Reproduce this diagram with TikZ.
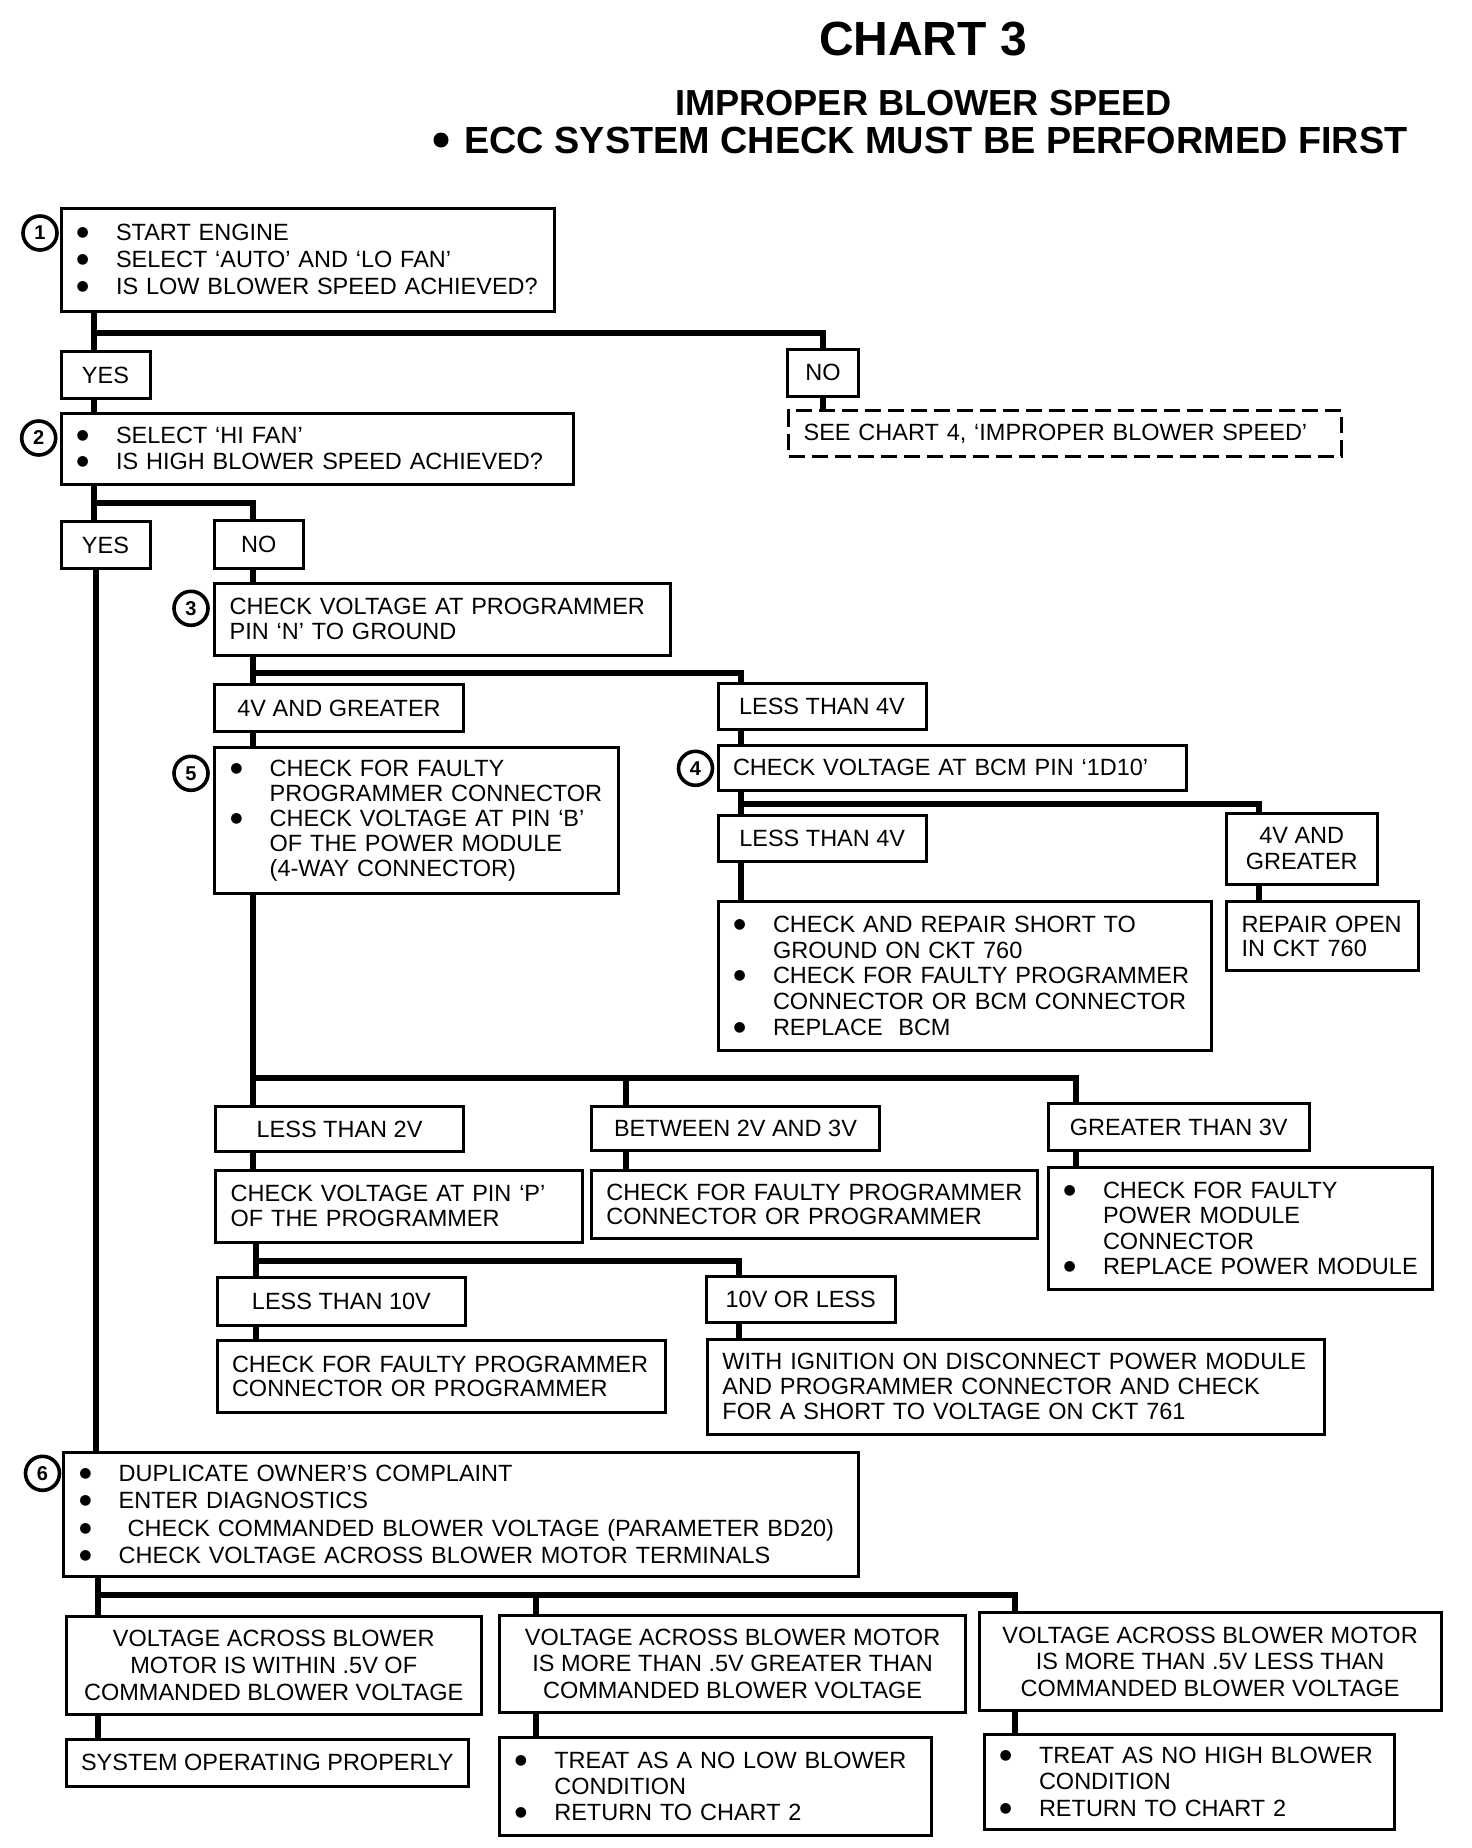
\documentclass[tikz,border=0pt]{standalone}
\usepackage{fontspec}
\setmainfont{Liberation Sans}
\newfontfamily\dejavu{DejaVu Sans}
\newcommand\bl{\makebox[20pt][l]{\hspace{0.3pt}\raisebox{2pt}{\fontsize{7pt}{7pt}\dejavu ●}}}
\newcommand\Bu[1]{\mbox{\bl #1}}
\newcommand\Co[1]{\mbox{\hspace*{20pt}#1}}
\newcommand\Pl[1]{\mbox{#1}}
\newcommand\lbox[7]{%
  \pgfmathsetmacro\bw{(#4-#2)/2}\pgfmathsetmacro\bh{(#5-#3)/2}\pgfmathsetmacro\tw{\bw-15}%
  \node[box,align=left,text width=\tw pt,minimum width=\bw pt,minimum height=\bh pt,#6] (#1) at ({(#2+#4)/2},{(#3+#5)/2}) {#7};}
\newcommand\cbox[7]{%
  \pgfmathsetmacro\bw{(#4-#2)/2}\pgfmathsetmacro\bh{(#5-#3)/2}%
  \node[box,align=center,minimum width=\bw pt,minimum height=\bh pt,#6] (#1) at ({(#2+#4)/2},{(#3+#5)/2}) {#7};}
\begin{document}
\begin{tikzpicture}[x=0.5pt,y=-0.5pt,
  box/.style={draw,line width=1.5pt,rectangle,inner xsep=7.5pt,inner ysep=0pt,font=\fontsize{11.75pt}{12.6pt}\selectfont},
  lsp/.style={font=\fontsize{11.75pt}{#1pt}\selectfont},
  conn/.style={line width=3pt},
  num/.style={draw,circle,line width=1.8pt,minimum size=17pt,inner sep=0pt,font=\fontsize{10pt}{10pt}\bfseries},
  dashbox/.style={dash pattern=on 8pt off 3.5pt}]
\useasboundingbox (0,0) rectangle (1472,1848);
% title
\node[anchor=base,inner sep=0pt,font=\fontsize{24pt}{28pt}\bfseries] (t1) at (923,55) {CHART 3};
\node[anchor=base,inner sep=0pt,font=\fontsize{18.1pt}{22pt}\bfseries] (t2) at (923.5,115) {IMPROPER BLOWER SPEED};
\node[circle,fill,inner sep=0pt,minimum size=7.5pt] (tb) at (441,140) {};
\node[anchor=base west,inner sep=0pt,font=\fontsize{18.9pt}{22pt}\bfseries] (t3) at (464,153) {ECC SYSTEM CHECK MUST BE PERFORMED FIRST};
% boxes
\lbox{b1}{61}{208}{554.5}{311}{lsp=13.35}{\Bu{START ENGINE}\\\Bu{SELECT ‘AUTO’ AND ‘LO FAN’}\\\Bu{IS LOW BLOWER SPEED ACHIEVED?}}
\cbox{yes1}{61}{351.7}{150}{398.3}{}{YES}
\cbox{no1}{787.6}{349}{858.5}{396}{}{NO}
\lbox{see}{788.6}{410.7}{1341}{456}{dashbox}{\Pl{SEE CHART 4, ‘IMPROPER BLOWER SPEED’}}
\lbox{b2}{61}{413}{573}{484}{lsp=13.3}{\Bu{SELECT ‘HI FAN’}\\\Bu{IS HIGH BLOWER SPEED ACHIEVED?}}
\cbox{yes2}{61}{521.7}{150}{568.3}{}{YES}
\cbox{no2}{214.7}{520.7}{303}{568.3}{}{NO}
\lbox{b3}{214.7}{583.3}{670}{655}{lsp=12.5}{\Pl{CHECK VOLTAGE AT PROGRAMMER}\\\Pl{PIN ‘N’ TO GROUND}}
\cbox{ge4a}{214.7}{684.3}{463.4}{731.7}{}{4V AND GREATER}
\cbox{lt4a}{718}{683.3}{926}{729}{}{LESS THAN 4V}
\lbox{b5}{214.7}{747.7}{618.2}{893.3}{lsp=12.5}{\Bu{CHECK FOR FAULTY}\\\Co{PROGRAMMER CONNECTOR}\\\Bu{CHECK VOLTAGE AT PIN ‘B’}\\\Co{OF THE POWER MODULE}\\\Co{(4-WAY CONNECTOR)}}
\lbox{b4}{718}{745.7}{1186.6}{790}{}{\Pl{CHECK VOLTAGE AT BCM PIN ‘1D10’}}
\cbox{lt4b}{718}{815}{926.5}{861.7}{}{LESS THAN 4V}
\cbox{ge4b}{1226.5}{813.3}{1377}{884.3}{lsp=13}{4V AND\\GREATER}
\lbox{brep}{718}{901.7}{1211.3}{1050}{lsp=12.85}{\Bu{CHECK AND REPAIR SHORT TO}\\\Co{GROUND ON CKT 760}\\\Bu{CHECK FOR FAULTY PROGRAMMER}\\\Co{CONNECTOR OR BCM CONNECTOR}\\\Bu{REPLACE\ \ BCM}}
\lbox{bopen}{1226.5}{901.7}{1418.4}{970.7}{lsp=12.2}{\Pl{REPAIR OPEN}\\\Pl{IN CKT 760}}
\cbox{lt2}{215.7}{1106.7}{463.4}{1151.7}{}{LESS THAN 2V}
\cbox{btw}{591.3}{1106}{879.7}{1150.7}{}{BETWEEN 2V AND 3V}
\cbox{gt3}{1048}{1103.3}{1309.5}{1150.7}{}{GREATER THAN 3V}
\lbox{pinp}{215.7}{1170}{582.8}{1242.7}{lsp=12.5}{\Pl{CHECK VOLTAGE AT PIN ‘P’}\\\Pl{OF THE PROGRAMMER}}
\lbox{faulty1}{591.3}{1170}{1037.8}{1238.3}{lsp=12}{\Pl{CHECK FOR FAULTY PROGRAMMER}\\\Pl{CONNECTOR OR PROGRAMMER}}
\lbox{power}{1048}{1167.3}{1432.6}{1289.3}{lsp=12.6}{\Bu{CHECK FOR FAULTY}\\\Co{POWER MODULE}\\\Co{CONNECTOR}\\\Bu{REPLACE POWER MODULE}}
\cbox{lt10}{217}{1277.3}{465.8}{1325}{}{LESS THAN 10V}
\cbox{le10}{706}{1276}{895.5}{1322.7}{}{10V OR LESS}
\lbox{faulty2}{217}{1340.7}{665.4}{1412.3}{lsp=12.2}{\Pl{CHECK FOR FAULTY PROGRAMMER}\\\Pl{CONNECTOR OR PROGRAMMER}}
\lbox{ign}{707.4}{1339.3}{1324.3}{1434}{lsp=12.5}{\Pl{WITH IGNITION ON DISCONNECT POWER MODULE}\\\Pl{AND PROGRAMMER CONNECTOR AND CHECK}\\\Pl{FOR A SHORT TO VOLTAGE ON CKT 761}}
\lbox{b6}{63.7}{1452.7}{858.5}{1576}{lsp=13.6}{\Bu{DUPLICATE OWNER'S COMPLAINT}\\\Bu{ENTER DIAGNOSTICS}\\\Bu{\hspace*{4.5pt}CHECK COMMANDED BLOWER VOLTAGE (PARAMETER BD20)}\\\Bu{CHECK VOLTAGE ACROSS BLOWER MOTOR TERMINALS}}
\cbox{vA}{66}{1616.7}{481.4}{1714}{lsp=13.3}{VOLTAGE ACROSS BLOWER\\MOTOR IS WITHIN .5V OF\\COMMANDED BLOWER VOLTAGE}
\cbox{vB}{499.3}{1615}{965.9}{1712.7}{lsp=13.3}{VOLTAGE ACROSS BLOWER MOTOR\\IS MORE THAN .5V GREATER THAN\\COMMANDED BLOWER VOLTAGE}
\cbox{vC}{979.2}{1612.3}{1441}{1710.7}{lsp=13.2}{VOLTAGE ACROSS BLOWER MOTOR\\IS MORE THAN .5V LESS THAN\\COMMANDED BLOWER VOLTAGE}
\cbox{sysok}{66}{1739}{468.6}{1786.7}{}{SYSTEM OPERATING PROPERLY}
\lbox{trlow}{499.3}{1737.7}{931.4}{1835}{lsp=12.9}{\Bu{TREAT AS A NO LOW BLOWER}\\\Co{CONDITION}\\\Bu{RETURN TO CHART 2}}
\lbox{trhigh}{984}{1734}{1394.2}{1829.3}{lsp=13.3}{\Bu{TREAT AS NO HIGH BLOWER}\\\Co{CONDITION}\\\Bu{RETURN TO CHART 2}}
% step numbers
\node[num] (n1) at (40,233) {1};
\node[num] (n2) at (38.7,438) {2};
\node[num] (n3) at (191,608.3) {3};
\node[num] (n5) at (191,773.3) {5};
\node[num] (n4) at (695.5,768.3) {4};
\node[num] (n6) at (42.5,1473.3) {6};
% trunk and junction coordinates
\coordinate (xA) at (94,0);
\coordinate (xY) at (95.5,0);
\coordinate (xL) at (97.7,0);
\coordinate (xB) at (253.4,0);
\coordinate (xB2) at (255.5,0);
\coordinate (xC) at (740.6,0);
\coordinate (xC2) at (739.4,0);
\coordinate (xD) at (1259.3,0);
\coordinate (xE) at (626.2,0);
\coordinate (xF) at (1076.2,0);
\coordinate (xG) at (535.6,0);
\coordinate (xH) at (1015,0);
\coordinate (h1) at (0,333);
\coordinate (h2) at (0,502.7);
\coordinate (h3) at (0,673.3);
\coordinate (h4) at (0,804.3);
\coordinate (h5) at (0,1078);
\coordinate (h6) at (0,1261);
\coordinate (h7) at (0,1594.5);
% connectors
\draw[conn] (b1.south -| xA) -- (yes1.north -| xA);
\draw[conn] (xA |- h1) -| (no1.north);
\draw[conn] (no1.south) -- (see.north -| no1.south);
\draw[conn] (yes1.south -| xA) -- (b2.north -| xA);
\draw[conn] (b2.south -| xA) -- (yes2.north -| xA);
\draw[conn] (xA |- h2) -| (xB |- no2.north);
\draw[conn] (yes2.south -| xY) -- (b6.north -| xY);
\draw[conn] (no2.south -| xB) -- (b3.north -| xB);
\draw[conn] (b3.south -| xB) -- (ge4a.north -| xB);
\draw[conn] (xB |- h3) -| (xC |- lt4a.north);
\draw[conn] (ge4a.south -| xB) -- (b5.north -| xB);
\draw[conn] (lt4a.south -| xC) -- (b4.north -| xC);
\draw[conn] (b4.south -| xC) -- (lt4b.north -| xC);
\draw[conn] (xC |- h4) -| (xD |- ge4b.north);
\draw[conn] (lt4b.south -| xC) -- (brep.north -| xC);
\draw[conn] (ge4b.south -| xD) -- (bopen.north -| xD);
\draw[conn] (b5.south -| xB) -- (lt2.north -| xB);
\draw[conn] (xB |- h5) -| (xF |- gt3.north);
\draw[conn] (xE |- h5) -- (btw.north -| xE);
\draw[conn] (lt2.south -| xB) -- (pinp.north -| xB);
\draw[conn] (btw.south -| xE) -- (faulty1.north -| xE);
\draw[conn] (gt3.south -| xF) -- (power.north -| xF);
\draw[conn] (pinp.south -| xB2) -- (lt10.north -| xB2);
\draw[conn] (xB2 |- h6) -| (xC2 |- le10.north);
\draw[conn] (lt10.south -| xB2) -- (faulty2.north -| xB2);
\draw[conn] (le10.south -| xC2) -- (ign.north -| xC2);
\draw[conn] (b6.south -| xL) -- (vA.north -| xL);
\draw[conn] (xL |- h7) -| (xH |- vC.north);
\draw[conn] (xG |- h7) -- (vB.north -| xG);
\draw[conn] (vA.south -| xL) -- (sysok.north -| xL);
\draw[conn] (vB.south -| xG) -- (trlow.north -| xG);
\draw[conn] (vC.south -| xH) -- (trhigh.north -| xH);
\end{tikzpicture}
\end{document}
